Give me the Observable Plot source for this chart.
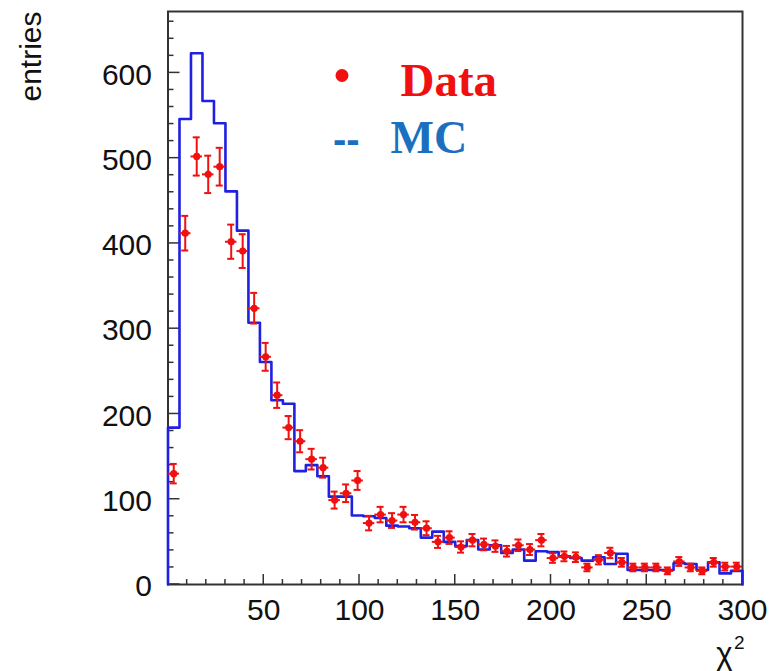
<!DOCTYPE html>
<html>
<head>
<meta charset="utf-8">
<script src="https://cdn.jsdelivr.net/npm/d3@7"></script>
<script src="https://cdn.jsdelivr.net/npm/@observablehq/plot@0.6"></script>
<style>
  html, body { margin: 0; padding: 0; background: white; }
</style>
</head>
<body>
<div id="chart"></div>
<script>
// ---- data ----
const binWidth = 6;
const binStarts = d3.range(0, 300, binWidth); // 50 bins of chi2

const dataCounts = [130, 412, 502, 481, 490, 402, 391, 324, 267, 222,
                    184, 168, 147, 137, 99, 107, 122, 72, 82, 75,
                    82, 73, 66, 50, 55, 44, 52, 47, 45, 39,
                    46, 41, 52, 31, 33, 32, 20, 29, 37, 26,
                    20, 20, 20, 16, 27, 20, 16, 26, 21, 21];

const mcCounts = [184, 546, 623, 567, 541, 461, 415, 307, 261, 216,
                  212, 133, 140, 127, 103, 103, 81, 80, 78, 69,
                  68, 66, 55, 62, 50, 45, 52, 41, 46, 37,
                  41, 28, 39, 38, 33, 31, 28, 32, 24, 36,
                  17, 17, 17, 17, 25, 24, 17, 26, 13, 16];

const xMajorTicks = [50, 100, 150, 200, 250, 300];
const yMajorTicks = [0, 100, 200, 300, 400, 500, 600];
const xMinorTicks = d3.range(10, 300, 10).filter(v => v % 50 !== 0);
const yMinorTicks = d3.range(20, 680, 20).filter(v => v % 100 !== 0);

const legendLabels = ["Data", "MC"];
const xLabel = "χ";
const xLabelSup = "2";
const yLabel = "entries";

// ---- derived tables ----
const points = binStarts.map((lo, i) => ({
  lo, hi: lo + binWidth, c: lo + binWidth / 2,
  v: dataCounts[i], e: Math.sqrt(dataCounts[i])
}));
const lastIdx = mcCounts.length - 1;
const mcStep = [{x: binStarts[0], y: 0}]
  .concat(binStarts.map((lo, i) => ({x: lo, y: mcCounts[i]})))
  .concat([{x: binStarts[lastIdx] + binWidth, y: mcCounts[lastIdx]},
           {x: binStarts[lastIdx] + binWidth, y: 0}]);

const RED = "#f01010";
const HBLUE = "#2020e0";
const LBLUE = "#1a6fbf";
const AX = "#333";

// ROOT-style inward ticks, drawn through Plot's own scales
function innerTicks(index, scales, values, dims) {
  const g = d3.create("svg:g")
    .attr("stroke", AX).attr("stroke-width", 1.5).attr("fill", "none");
  const left = dims.marginLeft;
  const bottom = dims.height - dims.marginBottom;
  const ys = [...yMajorTicks.map(v => [v, 12]), ...yMinorTicks.map(v => [v, 6])];
  for (const [v, len] of ys) {
    const y = scales.y(v);
    g.append("line").attr("x1", left).attr("x2", left + len).attr("y1", y).attr("y2", y);
  }
  const xs = [...xMajorTicks.map(v => [v, 10]), ...xMinorTicks.map(v => [v, 5])];
  for (const [v, len] of xs) {
    const x = scales.x(v);
    g.append("line").attr("x1", x).attr("x2", x).attr("y1", bottom).attr("y2", bottom - len);
  }
  return g.node();
}

const chart = Plot.plot({
  width: 770,
  height: 671,
  marginLeft: 167.5,
  marginRight: 28,
  marginTop: 11,
  marginBottom: 87,
  style: {fontFamily: "'Liberation Sans', Arial, sans-serif", background: "white", color: "#111"},
  x: {domain: [0, 300], label: null},
  y: {domain: [0, 672], label: null},
  marks: [
    Plot.frame({stroke: AX, strokeWidth: 2}),
    innerTicks,
    // tick labels
    Plot.axisY(yMajorTicks, {tickSize: 0, tickPadding: 16, fontSize: 30, dy: 2, label: null, fill: "#111"}),
    Plot.axisX(xMajorTicks, {tickSize: 0, tickPadding: 14, fontSize: 30, label: null, fill: "#111"}),
    // MC histogram
    Plot.line(mcStep, {x: "x", y: "y", curve: "step-after", stroke: HBLUE, strokeWidth: 2.6}),
    // data error bars
    Plot.ruleY(points, {y: "v", x1: "lo", x2: "hi", stroke: RED, strokeWidth: 2}),
    Plot.ruleX(points, {x: "c", y1: d => d.v - d.e, y2: d => d.v + d.e, stroke: RED, strokeWidth: 2}),
    Plot.ruleY(points, {y: d => d.v + d.e, x1: "c", x2: "c", insetLeft: -3.5, insetRight: -3.5, stroke: RED, strokeWidth: 2}),
    Plot.ruleY(points, {y: d => d.v - d.e, x1: "c", x2: "c", insetLeft: -3.5, insetRight: -3.5, stroke: RED, strokeWidth: 2}),
    Plot.dot(points, {x: "c", y: "v", r: 3.6, fill: RED, stroke: "none"}),
    // legend
    Plot.dot([legendLabels[0]], {frameAnchor: "top-left", dx: 174, dy: 64, r: 6.5, fill: RED}),
    Plot.text([legendLabels[0]], {frameAnchor: "top-left", dx: 232.5, dy: 84, text: d => d, textAnchor: "start", lineAnchor: "bottom",
      fontFamily: "'Liberation Serif', 'Times New Roman', serif", fontWeight: "bold", fontSize: 47, fill: RED}),
    Plot.text(["--"], {frameAnchor: "top-left", dx: 165, dy: 141, text: d => d, textAnchor: "start", lineAnchor: "bottom",
      fontFamily: "'Liberation Sans', Arial, sans-serif", fontWeight: "bold", fontSize: 40, fill: LBLUE}),
    Plot.text([legendLabels[1]], {frameAnchor: "top-left", dx: 222.5, dy: 141, text: d => d, textAnchor: "start", lineAnchor: "bottom",
      fontFamily: "'Liberation Serif', 'Times New Roman', serif", fontWeight: "bold", fontSize: 46, fill: LBLUE}),
    // axis titles
    Plot.text([yLabel], {frameAnchor: "top-left", dx: -127, dy: 0, rotate: -90, text: d => d, textAnchor: "end", lineAnchor: "bottom",
      fontSize: 30, fill: "#111"}),
    Plot.text([xLabel], {frameAnchor: "bottom-right", dx: -10, dy: 79, text: d => d, textAnchor: "end", lineAnchor: "bottom",
      fontSize: 31, fill: "#111"}),
    Plot.text([xLabelSup], {frameAnchor: "bottom-right", dx: 2, dy: 64, text: d => d, textAnchor: "end", lineAnchor: "bottom",
      fontSize: 19, fill: "#111"})
  ]
});
document.getElementById("chart").appendChild(chart);
</script>
</body>
</html>
